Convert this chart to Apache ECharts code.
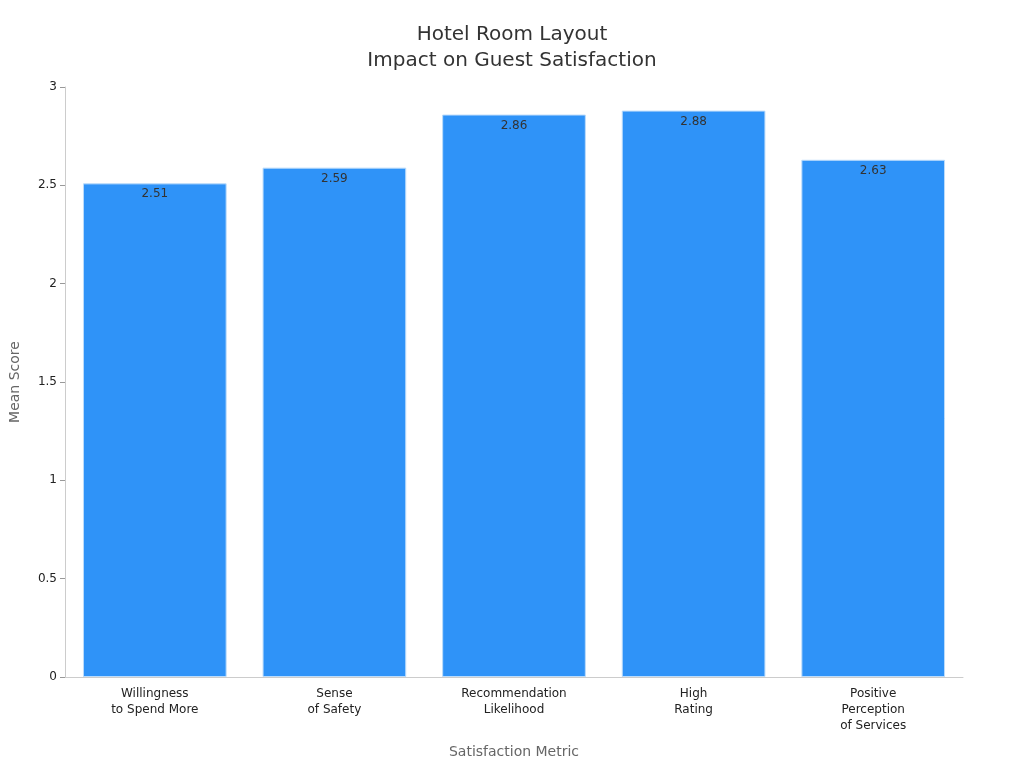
<!DOCTYPE html>
<html><head><meta charset="utf-8">
<script src="https://cdn.jsdelivr.net/npm/echarts@6/dist/echarts.min.js"></script>
<style>html,body{margin:0;padding:0;background:#fff}#c{width:1024px;height:768px}</style>
</head><body><div id="c"></div>
<script>
const categories = ["Willingness\nto Spend More","Sense\nof Safety","Recommendation\nLikelihood","High\nRating","Positive\nPerception\nof Services"];
const meanScores = [2.51, 2.59, 2.86, 2.88, 2.63];
const yTicks = {min:0, max:3, interval:0.5};
const chart = echarts.init(document.getElementById('c'));
chart.setOption({
  textStyle:{fontFamily:'DejaVu Sans'},
  title:{text:'Hotel Room Layout\nImpact on Guest Satisfaction',left:'center',top:17,
    textStyle:{fontSize:20,fontWeight:'normal',color:'#333',lineHeight:26,fontFamily:'DejaVu Sans'}},
  grid:{left:61,right:61,top:87,bottom:91,containLabel:false},
  xAxis:{type:'category',data:categories,
    axisLine:{lineStyle:{color:'#ccc'}},
    axisTick:{alignWithLabel:true,lineStyle:{color:'#999'}},
    axisLabel:{color:'#222',fontSize:12,lineHeight:16,margin:9,interval:0},
    name:'Satisfaction Metric',nameLocation:'middle',nameGap:68,
    nameTextStyle:{color:'#666',fontSize:14}},
  yAxis:{type:'value',min:yTicks.min,max:yTicks.max,interval:yTicks.interval,
    axisLine:{show:true,lineStyle:{color:'#ccc'}},
    axisTick:{show:true,lineStyle:{color:'#999'}},
    splitLine:{show:false},
    axisLabel:{color:'#222',fontSize:12,margin:8},
    name:'Mean Score',nameLocation:'middle',nameGap:43,
    nameTextStyle:{color:'#666',fontSize:14}},
  series:[{type:'bar',data:meanScores,barCategoryGap:'20%',
    itemStyle:{color:'#2f93f8',borderColor:'#bcdcfb',borderWidth:1},
    label:{show:true,position:'insideTop',color:'#333',fontSize:12}}]
});
</script></body></html>
